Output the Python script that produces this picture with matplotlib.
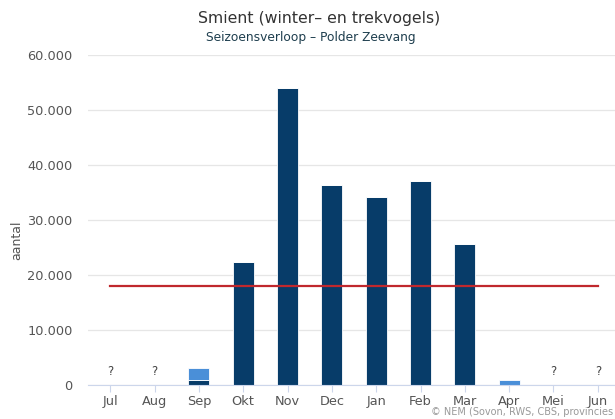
import matplotlib
matplotlib.use("Agg")
import matplotlib.pyplot as plt
import numpy as np

months = ["Jul", "Aug", "Sep", "Okt", "Nov", "Dec", "Jan", "Feb", "Mar", "Apr", "Mei", "Jun"]
counted = [0, 0, 900, 22300, 54000, 36400, 34200, 37100, 25600, 0, 0, 0]
estimated = [0, 0, 2200, 0, 0, 0, 0, 0, 0, 1000, 0, 0]
missing = [True, True, False, False, False, False, False, False, False, False, True, True]
threshold = 18000
yticks = [0, 10000, 20000, 30000, 40000, 50000, 60000]
ytick_labels = ["0", "10.000", "20.000", "30.000", "40.000", "50.000", "60.000"]

W, H = 615, 419
fig = plt.figure(figsize=(W / 100, H / 100), dpi=100)
ax = fig.add_axes([88 / W, 1 - 385 / H, 532 / W, 330 / H])

x = np.arange(len(months))
dark = "#073c69"
light = "#4a8fd8"
ax.bar(x, counted, width=0.47, color=dark, edgecolor="white", linewidth=0.6, zorder=3)
ax.bar(x, estimated, width=0.47, bottom=counted, color=light, edgecolor="white", linewidth=0.6, zorder=3)

for xi, m in zip(x, missing):
    if m:
        ax.text(xi, 1300, "?", ha="center", va="bottom", fontsize=8.5, color="#444444", zorder=4)

ax.plot([x[0], x[-1]], [threshold, threshold], color="#c0282d", linewidth=1.6, zorder=4)

ax.set_xlim(-0.5, len(months) - 0.5)
ax.set_ylim(0, 60000)
ax.set_yticks(yticks)
ax.set_yticklabels(ytick_labels)
ax.set_xticks(x)
ax.set_xticklabels(months)
ax.grid(axis="y", color="#e6e6e6", linewidth=0.9, zorder=0)
ax.set_axisbelow(True)
for s in ["top", "right", "left"]:
    ax.spines[s].set_visible(False)
ax.spines["bottom"].set_color("#ccd6eb")
ax.spines["bottom"].set_zorder(5)
ax.tick_params(axis="y", length=0, labelsize=9.3, labelcolor="#555555", pad=11)
ax.tick_params(axis="x", length=5, color="#ccd6eb", labelsize=9.3, labelcolor="#555555", pad=2)

fig.text(17 / W, 1 - 240 / H, "aantal", rotation=90, ha="center", va="center", fontsize=9, color="#555555")
fig.text(319 / W, 1 - 19 / H, "Smient (winter\u2013 en trekvogels)", ha="center", va="center", fontsize=11.3, color="#333333")
fig.text(311 / W, 1 - 37 / H, "Seizoensverloop \u2013 Polder Zeevang", ha="center", va="center", fontsize=8.8, color="#1e3e4e")
fig.text(613 / W, 1 - 412 / H, "\u00a9 NEM (Sovon, RWS, CBS, provincies", ha="right", va="center", fontsize=7, color="#999999")

fig.savefig("out.png", dpi=100)
